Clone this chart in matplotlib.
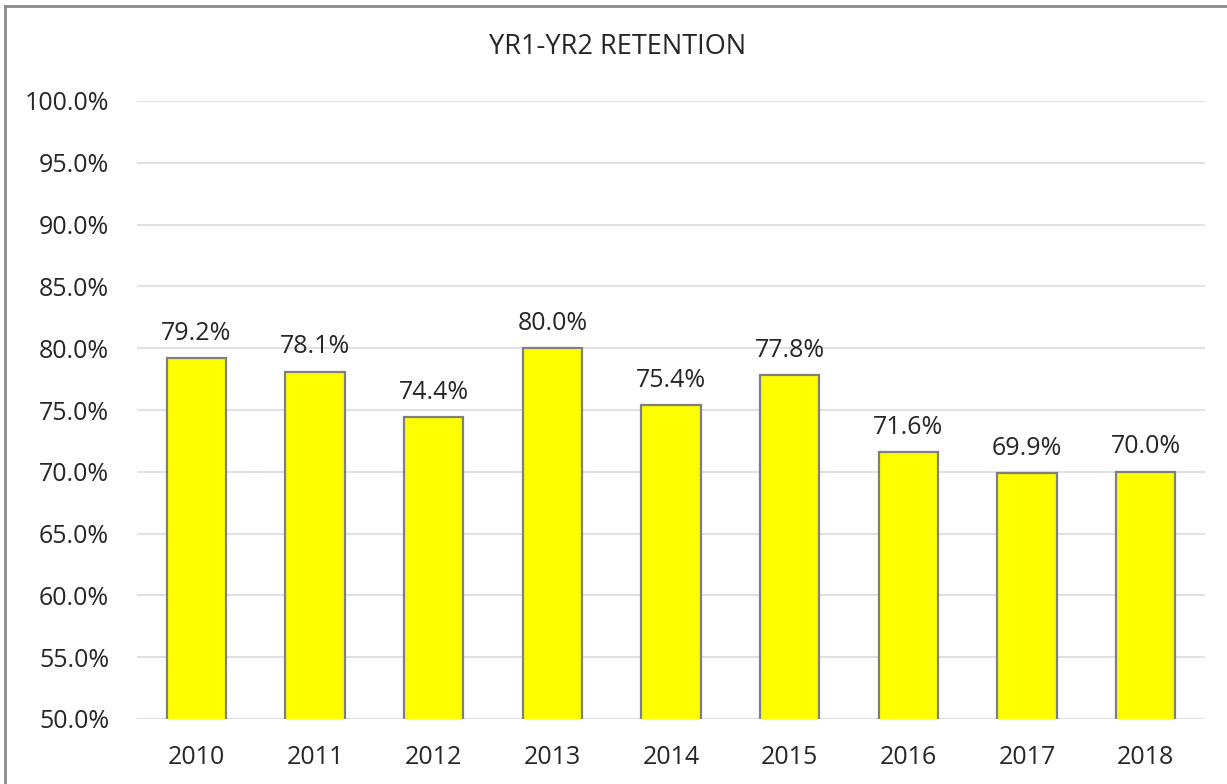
import matplotlib.pyplot as plt
from matplotlib.lines import Line2D
from matplotlib.ticker import FuncFormatter

# cohort years and year-1 to year-2 retention rates
years = ['2010', '2011', '2012', '2013', '2014', '2015', '2016', '2017', '2018']
retention = [0.792, 0.781, 0.744, 0.800, 0.754, 0.778, 0.716, 0.699, 0.700]
y_ticks = [0.50, 0.55, 0.60, 0.65, 0.70, 0.75, 0.80, 0.85, 0.90, 0.95, 1.00]

plt.rcParams['font.family'] = ['Open Sans', 'DejaVu Sans']
txt_color = '#262626'

fig = plt.figure(figsize=(12.27, 7.84), dpi=100)
ax = fig.add_axes([137 / 1227, 1 - 719 / 784, (1205 - 137) / 1227, (719 - 101) / 784])

x = range(len(years))
ax.bar(x, retention, width=0.5, color='#ffff00',
       edgecolor='#7f7f7f', linewidth=1.6, zorder=3)

for xi, v in zip(x, retention):
    ax.text(xi, v + 0.010, f'{v * 100:.1f}%', ha='center', va='bottom',
            fontsize=18, color=txt_color, zorder=4)

ax.set_xlim(-0.5, len(years) - 0.5)
ax.set_ylim(0.5, 1.0)
ax.set_xticks(list(x))
ax.set_xticklabels(years)
ax.set_yticks(y_ticks)
ax.yaxis.set_major_formatter(FuncFormatter(lambda v, p: f'{v * 100:.1f}%'))
ax.tick_params(axis='both', length=0, labelsize=18, colors=txt_color)
ax.tick_params(axis='y', pad=20)
ax.tick_params(axis='x', pad=19)

ax.grid(axis='y', color='#dde1e8', linewidth=1.5, zorder=0)
for s in ax.spines.values():
    s.set_visible(False)

fig.text(618 / 1227, 1 - 47 / 784, 'YR1-YR2 RETENTION', ha='center', va='center',
         fontsize=19.5, color=txt_color)

# outer chart border (left and top edges visible)
fig.add_artist(Line2D([4.5 / 1227, 4.5 / 1227], [0, 1 - 6 / 784], transform=fig.transFigure,
                      color='#8a8a8a', linewidth=2))
fig.add_artist(Line2D([4.5 / 1227, 1], [1 - 6 / 784, 1 - 6 / 784], transform=fig.transFigure,
                      color='#8a8a8a', linewidth=2))

fig.savefig('out.png', dpi=100)
